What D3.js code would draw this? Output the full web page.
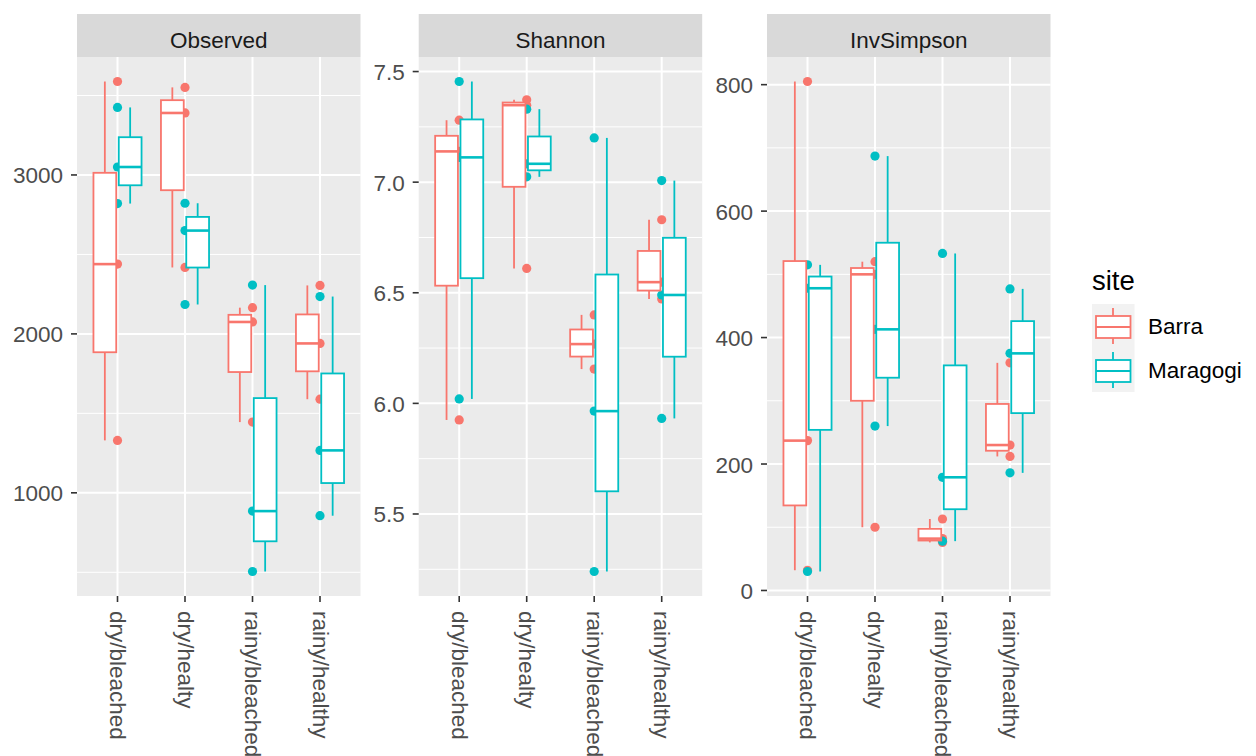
<!DOCTYPE html>
<html>
<head>
<meta charset="utf-8">
<script src="https://cdn.jsdelivr.net/npm/d3@7"></script>
<style>
  body { margin: 0; background: #fff; }
  text { font-family: "Liberation Sans", Arial, sans-serif; }
</style>
</head>
<body>
<div id="chart"></div>
<script>
var categories = ['dry/bleached', 'dry/healty', 'rainy/bleached', 'rainy/healthy']
var sites = ['Barra', 'Maragogi']
var metrics = ['Observed', 'Shannon', 'InvSimpson']

// three samples per site and category
var observedBarra    = [[1330, 2439, 3588], [2418, 3390, 3551], [1445, 2075, 2165], [1589, 1940, 2305]]
var observedMaragogi = [[2820, 3050, 3425], [2185, 2650, 2822], [505, 885, 2307], [856, 1267, 2235]]
var shannonBarra     = [[5.925, 7.139, 7.28], [6.61, 7.348, 7.372], [6.155, 6.268, 6.4], [6.472, 6.548, 6.83]]
var shannonMaragogi  = [[6.02, 7.112, 7.455], [7.024, 7.083, 7.33], [5.24, 5.965, 7.2], [5.932, 6.49, 7.007]]
var invSimpsonBarra    = [[32, 237, 805], [100, 500, 520], [76, 82, 113], [212, 230, 360]]
var invSimpsonMaragogi = [[30, 478, 515], [260, 413, 687], [78, 179, 533], [186, 375, 477]]

var observedTicks = [1000, 2000, 3000]
var shannonTicks = [5.5, 6.0, 6.5, 7.0, 7.5]
var invSimpsonTicks = [0, 200, 400, 600, 800]

var colors = ['#F8766D', '#00BFC4']

var panels = [
  {name: metrics[0], series: [observedBarra, observedMaragogi], ticks: observedTicks, fmt: d3.format('d'), left: 77},
  {name: metrics[1], series: [shannonBarra, shannonMaragogi], ticks: shannonTicks, fmt: d3.format('.1f'), left: 418.7},
  {name: metrics[2], series: [invSimpsonBarra, invSimpsonMaragogi], ticks: invSimpsonTicks, fmt: d3.format('d'), left: 767}
]

var W = 1256, H = 756
var pw = 283.5, stripTop = 14, plotTop = 57, plotBottom = 596
var fs = 22.5

var svg = d3.select('#chart').append('svg').attr('width', W).attr('height', H)

panels.forEach(function(p){
  var g = svg.append('g').attr('transform', 'translate(' + p.left + ',0)')

  var all = d3.merge(p.series.map(function(s){ return d3.merge(s) }))
  var ext = d3.extent(all), pad = (ext[1] - ext[0]) * 0.05
  var y = d3.scaleLinear().domain([ext[0] - pad, ext[1] + pad]).range([plotBottom, plotTop])

  // discrete x: 4 categories with 0.6 expansion each side
  var x = d3.scaleLinear().domain([0.4, categories.length + 0.6]).range([0, pw])

  // strip
  g.append('rect').attr('x', 0).attr('y', stripTop).attr('width', pw).attr('height', plotTop - stripTop).attr('fill', '#D9D9D9')
  g.append('text').attr('x', pw / 2).attr('y', 40).attr('text-anchor', 'middle').attr('dominant-baseline', 'central')
    .attr('font-size', fs).attr('fill', '#1A1A1A').text(p.name)

  // panel bg
  g.append('rect').attr('x', 0).attr('y', plotTop).attr('width', pw).attr('height', plotBottom - plotTop).attr('fill', '#EBEBEB')

  var step = p.ticks[1] - p.ticks[0]
  var minor = []
  for (var v = p.ticks[0] - step / 2; v <= y.domain()[1]; v += step) if (v >= y.domain()[0]) minor.push(v)

  g.selectAll('.minor').data(minor).enter().append('line')
    .attr('x1', 0).attr('x2', pw).attr('y1', y).attr('y2', y)
    .attr('stroke', '#fff').attr('stroke-width', 1)
  g.selectAll('.major').data(p.ticks).enter().append('line')
    .attr('x1', 0).attr('x2', pw).attr('y1', y).attr('y2', y)
    .attr('stroke', '#fff').attr('stroke-width', 2)
  g.selectAll('.vmajor').data(categories).enter().append('line')
    .attr('x1', function(d, i){ return x(i + 1) }).attr('x2', function(d, i){ return x(i + 1) })
    .attr('y1', plotTop).attr('y2', plotBottom)
    .attr('stroke', '#fff').attr('stroke-width', 2)

  var unit = x(2) - x(1)

  // points under the boxes
  p.series.forEach(function(s, si){
    s.forEach(function(vals, ci){
      g.selectAll(null).data(vals).enter().append('circle')
        .attr('cx', x(ci + 1)).attr('cy', y).attr('r', 4.6).attr('fill', colors[si])
    })
  })

  // boxes
  p.series.forEach(function(s, si){
    s.forEach(function(vals, ci){
      var sorted = vals.slice().sort(d3.ascending)
      var q1 = d3.quantile(sorted, 0.25), med = d3.quantile(sorted, 0.5), q3 = d3.quantile(sorted, 0.75)
      var cx = x(ci + 1) + (si === 0 ? -1 : 1) * 0.1875 * unit
      var bw = 0.3375 * unit
      var bg = g.append('g').attr('stroke', colors[si]).attr('stroke-width', 1.8)
      bg.append('line').attr('x1', cx).attr('x2', cx).attr('y1', y(sorted[2])).attr('y2', y(q3))
      bg.append('line').attr('x1', cx).attr('x2', cx).attr('y1', y(q1)).attr('y2', y(sorted[0]))
      bg.append('rect').attr('x', cx - bw / 2).attr('y', y(q3)).attr('width', bw).attr('height', y(q1) - y(q3)).attr('fill', '#fff')
      bg.append('line').attr('x1', cx - bw / 2).attr('x2', cx + bw / 2).attr('y1', y(med)).attr('y2', y(med)).attr('stroke-width', 2.6)
    })
  })

  // y axis
  p.ticks.forEach(function(t){
    g.append('line').attr('x1', -6).attr('x2', 0).attr('y1', y(t)).attr('y2', y(t)).attr('stroke', '#333').attr('stroke-width', 1.6)
    g.append('text').attr('x', -14).attr('y', y(t) + 1).attr('text-anchor', 'end').attr('dominant-baseline', 'central')
      .attr('font-size', fs).attr('fill', '#4D4D4D').text(p.fmt(t))
  })

  // x axis
  categories.forEach(function(c, i){
    var xx = x(i + 1)
    g.append('line').attr('x1', xx).attr('x2', xx).attr('y1', plotBottom).attr('y2', plotBottom + 6).attr('stroke', '#333').attr('stroke-width', 1.6)
    g.append('text').attr('transform', 'translate(' + xx + ',' + (plotBottom + 15) + ') rotate(90)')
      .attr('dominant-baseline', 'central').attr('font-size', fs).attr('fill', '#4D4D4D').text(c)
  })
})

// legend
var lg = svg.append('g').attr('transform', 'translate(1092,0)')
lg.append('text').attr('x', 0).attr('y', 290).attr('font-size', 27.5).attr('fill', '#000').text('site')
sites.forEach(function(s, i){
  var ky = 304 + i * 44
  lg.append('rect').attr('x', 0).attr('y', ky).attr('width', 42.5).attr('height', 44).attr('fill', '#F2F2F2')
  var kg = lg.append('g').attr('stroke', colors[i]).attr('stroke-width', 1.8)
  kg.append('line').attr('x1', 21).attr('x2', 21).attr('y1', ky + 4).attr('y2', ky + 40)
  kg.append('rect').attr('x', 4).attr('y', ky + 12).attr('width', 34.5).attr('height', 22).attr('fill', '#fff')
  kg.append('line').attr('x1', 4).attr('x2', 38.5).attr('y1', ky + 23).attr('y2', ky + 23)
  lg.append('text').attr('x', 56).attr('y', ky + 22).attr('dominant-baseline', 'central')
    .attr('font-size', fs).attr('fill', '#000').text(s)
})
</script>
</body>
</html>
